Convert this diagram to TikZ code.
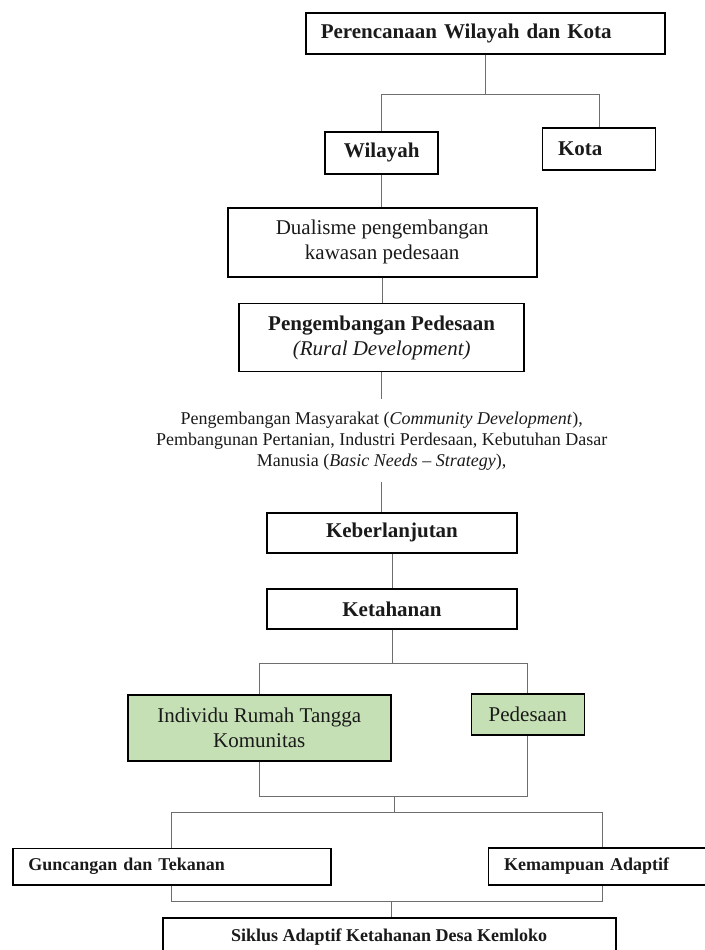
\documentclass[tikz,border=0pt]{standalone}
\usepackage{fontspec}
\setmainfont{Liberation Serif}
\usepackage{xcolor}
\definecolor{rdGreen}{HTML}{C5E0B4}
\definecolor{rdLine}{HTML}{6E6E6E}
\definecolor{rdDark}{HTML}{1A1A1A}
\usepackage{tikz}
\usetikzlibrary{positioning, calc}

\begin{document}
\begin{tikzpicture}[
        x=1pt, y=-1pt,
        box/.style={rectangle, draw=black, line width=1.6pt, inner sep=0pt, align=center, text=rdDark, font=\fontsize{21}{25}\selectfont\bfseries},
        plainbox/.style={box, font=\fontsize{21}{25}\selectfont},
        greenbox/.style={plainbox, fill=rdGreen},
        lowbox/.style={box, font=\fontsize{18}{21}\selectfont\bfseries},
        conn/.style={draw=rdLine, line width=1pt},
    ]
        \useasboundingbox (0,0) rectangle (704,950);

        % Planning
        \node[box, minimum width=359pt, minimum height=41pt, text width=329pt, align=left] (plan) at (485.3,33.3) {Perencanaan Wilayah dan Kota};
        \node[box, minimum width=113pt, minimum height=42pt] (wil) at (381.7,152.8) {Wilayah};
        \node[box, minimum width=113pt, minimum height=42pt, text width=82pt, align=left] (kota) at (599,148.7) {Kota};

        % Rural development
        \node[plainbox, minimum width=309pt, minimum height=69pt] (dual) at (382.2,242.2) {Dualisme pengembangan\\kawasan pedesaan};
        \node[box, minimum width=285pt, minimum height=68pt] (rural) at (381.7,337.5) {Pengembangan Pedesaan\\{\mdseries\itshape (Rural Development)}};
        \node[plainbox, draw=none, minimum height=81.7pt, font=\fontsize{18}{21}\selectfont] (strat) at (381.7,440.8) {Pengembangan Masyarakat (\textit{Community Development}),\\Pembangunan Pertanian, Industri Perdesaan, Kebutuhan Dasar\\Manusia (\textit{Basic Needs -- Strategy}),};

        % Resilience
        \node[box, minimum width=250pt, minimum height=40pt] (keb) at (392,532.7) {Keberlanjutan};
        \node[box, minimum width=250pt, minimum height=40pt] (ket) at (392,609) {Ketahanan};
        \node[greenbox, minimum width=263pt, minimum height=66pt] (indiv) at (259.3,727.8) {Individu Rumah Tangga\\Komunitas};
        \node[greenbox, minimum width=113pt, minimum height=41pt] (desa) at (527.8,714.5) {Pedesaan};

        % Adaptive cycle
        \node[lowbox, minimum width=318pt, minimum height=36.7pt, text width=286.6pt, align=left] (shock) at (171.7,866.7) {Guncangan dan Tekanan};
        \node[lowbox, minimum width=227.7pt, minimum height=37pt, text width=196.3pt, align=left] (adapt) at (602.2,866.3) {Kemampuan Adaptif};
        \node[lowbox, minimum width=453pt, minimum height=38pt] (siklus) at (389.2,936.7) {Siklus Adaptif Ketahanan Desa Kemloko};

        \coordinate (join) at (394.3,796.7);
        \coordinate (split) at (394.3,812.7);
        \coordinate (join2) at (391.7,901);

        % Connectors: planning -> region, city
        \draw[conn] (plan.south) -- ++(0,40.3) -| (wil.north);
        \draw[conn] (plan.south) -- ++(0,40.3) -| (kota.north);

        % Connectors: region -> rural development
        \draw[conn] (wil.south) -- (wil.south |- dual.north);
        \draw[conn] (dual.south) -- (dual.south |- rural.north);
        \draw[conn] (rural.south) -- (strat.north);
        \draw[conn] (strat.south) -- (strat.south |- keb.north);

        % Connectors: resilience
        \draw[conn] (keb.south) -- (ket.north);
        \draw[conn] (ket.south) -- ++(0,33.7) -| (indiv.north);
        \draw[conn] (ket.south) -- ++(0,33.7) -| (desa.north);
        \draw[conn] (indiv.south) |- (join) -| (desa.south);
        \draw[conn] (join) -- (split);
        \draw[conn] (split) -| (shock.north);
        \draw[conn] (split) -| (adapt.north);
        \draw[conn] (shock.south) |- (join2) -| (adapt.south);
        \draw[conn] (join2) -- (join2 |- siklus.north);

    \end{tikzpicture}
\end{document}
